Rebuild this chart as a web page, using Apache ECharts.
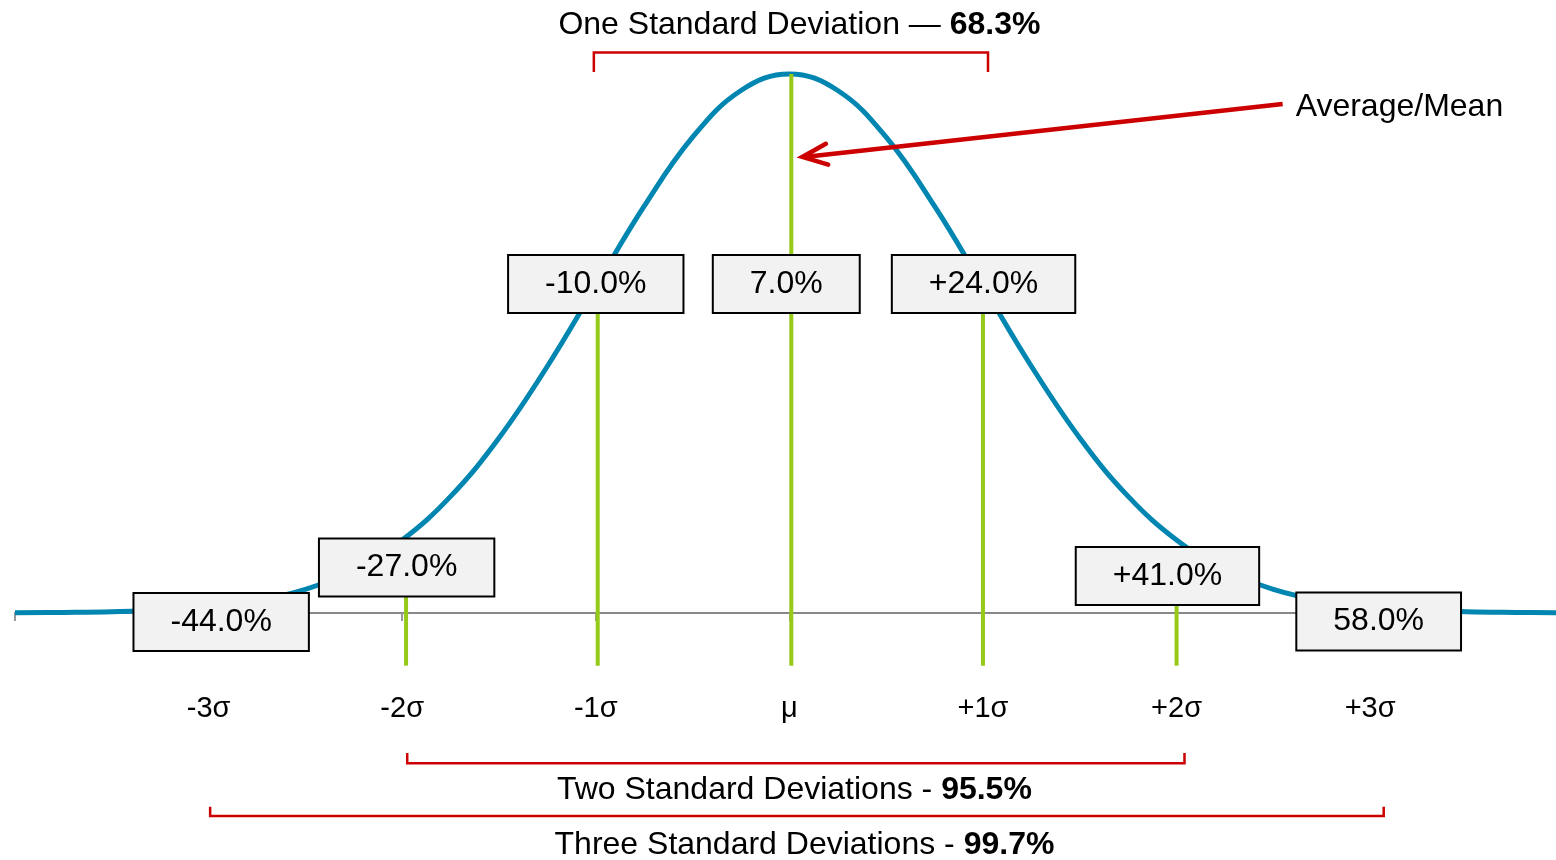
<!DOCTYPE html>
<html>
<head>
<meta charset="utf-8">
<script src="https://cdn.jsdelivr.net/npm/echarts@6/dist/echarts.min.js"></script>
<style>
  html, body { margin: 0; padding: 0; background: #fff; }
  #chart { width: 1556px; height: 860px; }
</style>
</head>
<body>
<div id="chart"></div>
<script>
// curve: x in sigma units, y = height of the bell curve
const curveX = [-4, -3.75, -3.5, -3.25, -3, -2.75, -2.5, -2.25, -2, -1.75, -1.5, -1.25, -1, -0.75, -0.5, -0.25,
  0, 0.25, 0.5, 0.75, 1, 1.25, 1.5, 1.75, 2, 2.25, 2.5, 2.75, 3, 3.25, 3.5, 3.75, 4]
const curveY = [0.0001, 0.0004, 0.0009, 0.0020, 0.0044, 0.0091, 0.0175, 0.0317, 0.0540, 0.0863, 0.1295, 0.1826, 0.2420, 0.3011, 0.3521, 0.3867,
  0.3989, 0.3867, 0.3521, 0.3011, 0.2420, 0.1826, 0.1295, 0.0863, 0.0540, 0.0317, 0.0175, 0.0091, 0.0044, 0.0020, 0.0009, 0.0004, 0.0001]

const tickValues = [-3, -2, -1, 0, 1, 2, 3]
const tickLabels = ['-3σ', '-2σ', '-1σ', 'μ', '+1σ', '+2σ', '+3σ']

// value boxes
const boxLabels = ['-44.0%', '-27.0%', '-10.0%', '7.0%', '+24.0%', '+41.0%', '58.0%']
const boxX = [-2.935, -1.977, -1.0, -0.016, 1.003, 1.953, 3.044]
const boxY = [-0.0067, 0.0337, 0.2435, 0.2435, 0.2435, 0.0274, -0.0063]

// green sigma markers
const markerX = [-1.98, -0.99, 0.01, 1.0, 2.0]
const markerTop = [0.012, 0.222, 0.3989, 0.222, 0.006]
const markerBottom = -0.039

// red brackets
const bracketFrom = [-1.01, -1.974, -2.992]
const bracketTo = [1.026, 2.041, 3.07]
const bracketY = [0.4148, -0.1112, -0.1502]
const bracketTip = [0.4004, -0.1036, -0.1434]
const bracketText = ['One Standard Deviation — ', 'Two Standard Deviations - ', 'Three Standard Deviations - ']
const bracketPct = ['68.3%', '95.5%', '99.7%']
const bracketTextX = [0.052, 0.026, 0.078]
const bracketTextY = [0.435, -0.131, -0.1717]

// mean arrow
const arrowFrom = [2.548, 0.3767]
const arrowTo = [0.067, 0.3375]
const arrowLabel = 'Average/Mean'

const FONT = "'Liberation Sans', Arial, sans-serif"
const RED = '#CC0000'

const chart = echarts.init(document.getElementById('chart'))

const option = {
  animation: false,
  textStyle: { fontFamily: FONT },
  // right edge of the plot runs off the picture, so the axis stops just short of +4σ
  grid: { left: 15, right: 0, top: 72.5, height: 594.5, outerBoundsMode: 'none' },
  xAxis: {
    type: 'value',
    min: -4,
    max: 3.96,
    interval: 1,
    axisLine: { onZero: true, lineStyle: { color: '#888', width: 2 } },
    axisTick: { show: true, length: 8, lineStyle: { color: '#999', width: 2 } },
    splitLine: { show: false },
    axisLabel: {
      margin: 27,
      fontSize: 29,
      color: '#000',
      fontFamily: FONT,
      showMaxLabel: false,
      formatter: (v) => {
        const i = tickValues.indexOf(v)
        return i < 0 ? '' : tickLabels[i]
      }
    }
  },
  yAxis: {
    type: 'value',
    min: -0.04,
    max: 0.4,
    show: false,
    splitLine: { show: false }
  },
  series: [
    {
      type: 'line',
      data: curveX.map((x, i) => [x, curveY[i]]),
      smooth: 0.4,
      symbol: 'none',
      clip: false,
      lineStyle: { color: '#0086B0', width: 5 },
      z: 2
    },
    {
      type: 'custom',
      z: 3,
      data: markerX.map((x, i) => [x, markerTop[i], markerBottom]),
      renderItem: (params, api) => {
        const a = api.coord([api.value(0), api.value(1)])
        const b = api.coord([api.value(0), api.value(2)])
        return {
          type: 'line',
          shape: { x1: a[0], y1: a[1], x2: b[0], y2: b[1] },
          style: { stroke: '#97C918', lineWidth: 4 }
        }
      }
    },
    {
      type: 'custom',
      z: 4,
      data: bracketFrom.map((f, i) => [f, bracketY[i], bracketTo[i], bracketTip[i], bracketTextX[i], bracketTextY[i]]),
      renderItem: (params, api) => {
        const i = params.dataIndex
        const p1 = api.coord([api.value(0), api.value(3)])
        const p2 = api.coord([api.value(0), api.value(1)])
        const p3 = api.coord([api.value(2), api.value(1)])
        const p4 = api.coord([api.value(2), api.value(3)])
        const t = api.coord([api.value(4), api.value(5)])
        return {
          type: 'group',
          children: [
            {
              type: 'polyline',
              shape: { points: [p1, p2, p3, p4] },
              style: { stroke: RED, lineWidth: 2.5, fill: null }
            },
            {
              type: 'text',
              x: t[0],
              y: t[1],
              style: {
                text: '{n|' + bracketText[i] + '}{b|' + bracketPct[i] + '}',
                rich: {
                  n: { fontSize: 32, fontFamily: FONT, fill: '#000' },
                  b: { fontSize: 32, fontFamily: FONT, fontWeight: 'bold', fill: '#000' }
                },
                align: 'center',
                verticalAlign: 'middle'
              }
            }
          ]
        }
      }
    },
    {
      type: 'custom',
      z: 4,
      data: [[arrowFrom[0], arrowFrom[1], arrowTo[0], arrowTo[1]]],
      renderItem: (params, api) => {
        const s = api.coord([api.value(0), api.value(1)])
        const e = api.coord([api.value(2), api.value(3)])
        const ang = Math.atan2(s[1] - e[1], s[0] - e[0])
        const len = 27
        const spread = 23 * Math.PI / 180
        const h1 = [e[0] + len * Math.cos(ang - spread), e[1] + len * Math.sin(ang - spread)]
        const h2 = [e[0] + len * Math.cos(ang + spread), e[1] + len * Math.sin(ang + spread)]
        return {
          type: 'group',
          children: [
            {
              type: 'line',
              shape: { x1: s[0], y1: s[1], x2: e[0] + 2, y2: e[1] },
              style: { stroke: RED, lineWidth: 4.5 }
            },
            {
              type: 'polyline',
              shape: { points: [h1, e, h2] },
              style: { stroke: RED, lineWidth: 4.5, fill: null, lineCap: 'round', lineJoin: 'miter' }
            },
            {
              type: 'text',
              x: s[0] + 13,
              y: s[1] + 3,
              style: {
                text: arrowLabel,
                fontSize: 32,
                fontFamily: FONT,
                fill: '#000',
                align: 'left',
                verticalAlign: 'middle'
              }
            }
          ]
        }
      }
    },
    {
      type: 'scatter',
      z: 6,
      symbolSize: 1,
      itemStyle: { color: 'transparent', opacity: 1 },
      emphasis: { disabled: true },
      data: boxX.map((x, i) => ({ value: [x, boxY[i]], name: boxLabels[i] })),
      label: {
        show: true,
        position: 'inside',
        formatter: '{b}',
        fontSize: 32,
        fontFamily: FONT,
        color: '#000',
        backgroundColor: '#F2F2F2',
        borderColor: '#000',
        borderWidth: 2,
        padding: [13, 36, 11, 36]
      }
    }
  ]
}

chart.setOption(option)

window.addEventListener('resize', () => {
  chart.resize()
})
</script>
</body>
</html>
